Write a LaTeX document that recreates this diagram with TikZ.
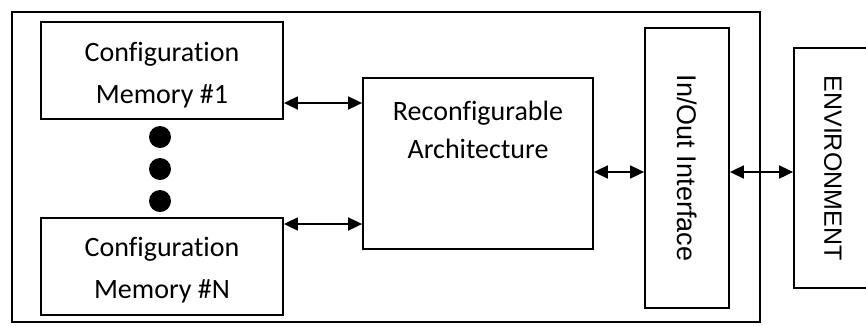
\documentclass[tikz,border=0pt]{standalone}
\usepackage{fontspec}
\setmainfont{Carlito}[Ligatures={NoCommon,NoRequired,NoContextual}]
\newfontfamily\arialfont{Liberation Sans}
\usetikzlibrary{arrows.meta}
\tikzset{
  plainbox/.style={draw, line width=1.8pt, fill=white, inner sep=0pt},
  blocktext/.style={align=center, inner sep=0pt, font=\fontsize{28}{42}\selectfont},
  dbl/.style={line width=1.8pt,
    {Triangle[length=14pt,width=13pt]}-{Triangle[length=14pt,width=13pt]}},
  dot/.style={circle, fill=black, minimum size=22pt, inner sep=0pt}
}
\begin{document}
\begin{tikzpicture}[x=1pt,y=-1pt]
\useasboundingbox (0,0) rectangle (866,325);
% enclosing system frame
\draw[line width=1.8pt] (12,12) rectangle (760,322);
% configuration memories
\node[plainbox, minimum width=242pt, minimum height=97pt] (mem1) at (162,70.5) {};
\node[blocktext] (mem1txt) at (162,75) {Configuration\\Memory \#1};
\node[plainbox, minimum width=242pt, minimum height=97pt] (memN) at (162,266.5) {};
\node[blocktext] (memNtxt) at (162,270) {Configuration\\Memory \#N};
\node[dot] (d1) at (160,137) {};
\node[dot] (d2) at (160,169) {};
\node[dot] (d3) at (160,201) {};
% reconfigurable core
\node[plainbox, minimum width=230pt, minimum height=171pt] (arch) at (478,163.5) {};
\node[blocktext, font=\fontsize{28}{38}\selectfont] (archtxt) at (478,130)
  {Reconfigurable\\Architecture};
% interface and environment
\node[plainbox, minimum width=84pt, minimum height=280pt] (io) at (687,168)
  {\rotatebox{-90}{\arialfont\fontsize{27}{30}\selectfont In/Out Interface}};
\node[plainbox, minimum width=78pt, minimum height=240pt] (env) at (833,168)
  {\rotatebox{-90}{\arialfont\fontsize{25}{30}\selectfont ENVIRONMENT}};
% links
\coordinate (lvl) at (0,172);
\draw[dbl] ([yshift=-32.5pt]mem1.east) coordinate (t1) -- (t1 -| arch.west);
\draw[dbl] ([yshift=42.5pt]memN.east) coordinate (t2) -- (t2 -| arch.west);
\draw[dbl] (arch.east |- lvl) -- (io.west |- lvl);
\draw[dbl] (io.east |- lvl) -- (env.west |- lvl);
\end{tikzpicture}
\end{document}
